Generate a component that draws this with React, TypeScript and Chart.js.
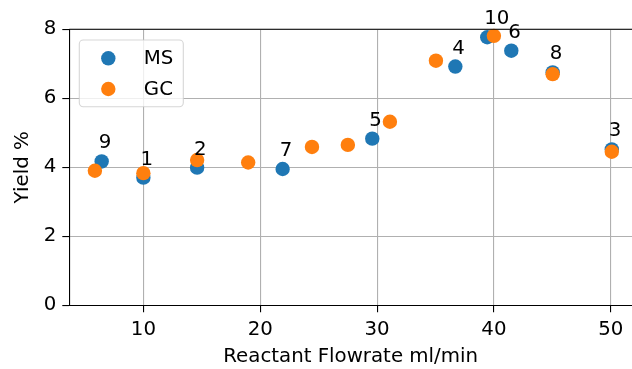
import React, { useEffect, useRef } from "react";
import { Chart, registerables } from "chart.js";

Chart.register(...registerables);

const msX = [6.43, 10.0, 14.6, 21.92, 29.59, 36.7, 39.43, 41.49, 45.03, 50.09];
const msY = [4.17, 3.7, 3.99, 3.95, 4.83, 6.92, 7.77, 7.38, 6.75, 4.52];
const msLabels = ["9", "1", "2", "7", "5", "4", "10", "6", "8", "3"];
const gcX = [5.85, 10.0, 14.6, 18.97, 24.43, 27.5, 31.1, 35.04, 40.0, 45.03, 50.09];
const gcY = [3.9, 3.83, 4.21, 4.14, 4.59, 4.65, 5.32, 7.09, 7.81, 6.7, 4.45];
const xTicks = [10, 20, 30, 40, 50];
const yTicks = [0, 2, 4, 6, 8];
const seriesNames = ["MS", "GC"];

const BLUE = "#1f77b4";
const ORANGE = "#ff7f0e";
const FONT = "'DejaVu Sans', sans-serif";
const FS = 19.8;

const fixAreaPlugin = {
  id: "fixArea",
  afterLayout(chart: any) {
    const xs = chart.scales.x;
    const area = chart.chartArea;
    area.right = chart.width;
    area.width = area.right - area.left;
    xs.right = chart.width;
    xs.width = xs.right - xs.left;
    xs.configure();
  },
};

const overlayPlugin = {
  id: "overlay",
  afterDraw(chart: any) {
    const ctx = chart.ctx;
    const { left, right, top } = chart.chartArea;
    const xs = chart.scales.x;
    const ys = chart.scales.y;
    ctx.save();
    ctx.strokeStyle = "#000";
    ctx.lineWidth = 1.1;
    ctx.beginPath();
    ctx.moveTo(left, top);
    ctx.lineTo(right, top);
    ctx.stroke();
    ctx.fillStyle = "#000";
    ctx.font = `${FS}px ${FONT}`;
    ctx.textAlign = "left";
    ctx.textBaseline = "alphabetic";
    msLabels.forEach((lab, i) => {
      const px = xs.getPixelForValue(msX[i]);
      const py = ys.getPixelForValue(msY[i]);
      ctx.fillText(lab, px - 3, py - 13);
    });
    const lx = left + 10;
    const ly = top + 10.7;
    const lw = 104;
    const lh = 66.7;
    ctx.beginPath();
    (ctx as any).roundRect(lx, ly, lw, lh, 4);
    ctx.fillStyle = "rgba(255,255,255,0.8)";
    ctx.fill();
    ctx.strokeStyle = "rgba(204,204,204,0.8)";
    ctx.lineWidth = 1.1;
    ctx.stroke();
    const colors = [BLUE, ORANGE];
    seriesNames.forEach((name, i) => {
      const cy = ly + 18.3 + i * 30.7;
      ctx.beginPath();
      ctx.arc(lx + 29, cy, 7.2, 0, Math.PI * 2);
      ctx.fillStyle = colors[i];
      ctx.fill();
      ctx.fillStyle = "#000";
      ctx.textBaseline = "middle";
      ctx.fillText(name, lx + 64.5, cy + 1);
    });
    ctx.restore();
  },
};

export default function App() {
  const ref = useRef<HTMLCanvasElement>(null);
  useEffect(() => {
    if (!ref.current) return;
    const chart = new Chart(ref.current, {
      type: "scatter",
      data: {
        datasets: [
          {
            label: seriesNames[0],
            data: msX.map((x, i) => ({ x, y: msY[i] })),
            backgroundColor: BLUE,
            borderColor: BLUE,
            pointRadius: 7.2,
            borderWidth: 0,
            order: 2,
            clip: false as any,
          },
          {
            label: seriesNames[1],
            data: gcX.map((x, i) => ({ x, y: gcY[i] })),
            backgroundColor: ORANGE,
            borderColor: ORANGE,
            pointRadius: 7.2,
            borderWidth: 0,
            order: 1,
            clip: false as any,
          },
        ],
      },
      options: {
        animation: false,
        responsive: false,
        devicePixelRatio: 1,
        layout: { padding: { top: 29.3, right: 0, left: 0, bottom: 0 } },
        plugins: { legend: { display: false }, tooltip: { enabled: false } },
        scales: {
          x: {
            type: "linear",
            min: 3.66,
            max: 51.82,
            afterBuildTicks: (s: any) => {
              s.ticks = xTicks.map((v) => ({ value: v }));
            },
            afterFit: (s: any) => {
              s.height = 63.7;
              s.paddingLeft = 0;
              s.paddingRight = 0;
            },
            grid: { color: "#b0b0b0", lineWidth: 1.1, tickColor: "#000", tickLength: 7, drawTicks: true },
            border: { color: "#000", width: 1.1 },
            ticks: { color: "#000", font: { family: FONT, size: FS }, padding: 6, maxRotation: 0 },
            title: {
              display: true,
              text: "Reactant Flowrate ml/min",
              color: "#000",
              font: { family: FONT, size: FS },
              padding: { top: 0, bottom: 0 },
            },
          },
          y: {
            type: "linear",
            min: 0,
            max: 8,
            afterBuildTicks: (s: any) => {
              s.ticks = yTicks.map((v) => ({ value: v }));
            },
            afterFit: (s: any) => {
              s.width = 69.3;
              s.paddingTop = 0;
              s.paddingBottom = 0;
            },
            grid: { color: "#b0b0b0", lineWidth: 1.1, tickColor: "#000", tickLength: 7, drawTicks: true },
            border: { color: "#000", width: 1.1 },
            ticks: { color: "#000", font: { family: FONT, size: FS }, padding: 6 },
            title: {
              display: true,
              text: "Yield %",
              color: "#000",
              font: { family: FONT, size: FS },
              padding: { top: 11, bottom: 0 },
            },
          },
        },
      },
      plugins: [fixAreaPlugin, overlayPlugin],
    });
    return () => chart.destroy();
  }, []);
  return (
    <div style={{ position: "absolute", left: 0, top: 0, width: 632, height: 369, background: "#fff" }}>
      <canvas ref={ref} width={632} height={369} style={{ width: 632, height: 369, display: "block" }} />
    </div>
  );
}
